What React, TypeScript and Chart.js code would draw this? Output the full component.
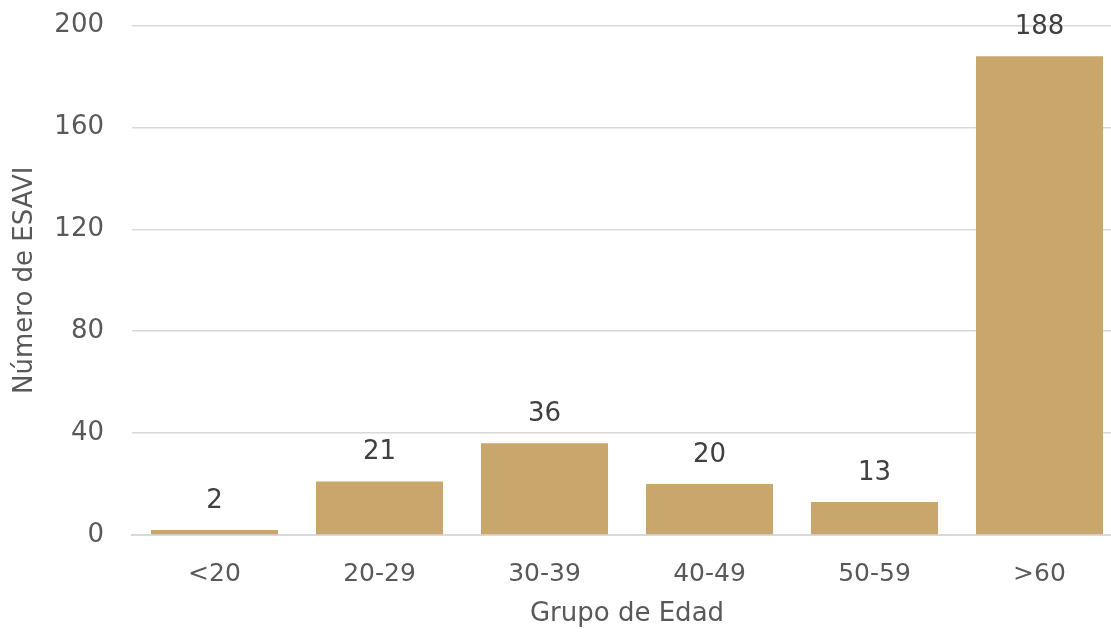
import React, { useEffect, useRef } from "react";
import { Chart, registerables } from "chart.js";

Chart.register(...registerables);

const categories = ["<20", "20-29", "30-39", "40-49", "50-59", ">60"];
const values = [2, 21, 36, 20, 13, 188];
const yTicks = [0, 40, 80, 120, 160, 200];

const FONT = "'DejaVu Sans', sans-serif";

const valueLabels = {
  id: "valueLabels",
  afterDatasetsDraw(chart: any) {
    const { ctx } = chart;
    const meta = chart.getDatasetMeta(0);
    ctx.save();
    ctx.font = `26px ${FONT}`;
    ctx.fillStyle = "#404040";
    ctx.textAlign = "center";
    ctx.textBaseline = "middle";
    meta.data.forEach((bar: any, i: number) => {
      ctx.fillText(String(values[i]), bar.x, bar.y - 29);
    });
    ctx.restore();
  },
};

export default function App() {
  const ref = useRef<HTMLCanvasElement>(null);
  useEffect(() => {
    document.body.style.margin = "0";
    const chart = new Chart(ref.current!, {
      type: "bar",
      data: {
        labels: categories,
        datasets: [
          {
            data: values,
            backgroundColor: "#C9A66B",
            categoryPercentage: 1,
            barPercentage: 0.77,
          },
        ],
      },
      options: {
        animation: false,
        responsive: false,
        layout: { padding: 0 },
        plugins: { legend: { display: false }, tooltip: { enabled: false } },
        scales: {
          x: {
            afterFit: (axis: any) => {
              axis.height = 97;
            },
            grid: { display: false, drawTicks: false },
            border: { display: true, color: "#d9d9d9", width: 2 },
            ticks: { color: "#595959", font: { family: FONT, size: 25 }, padding: 24 },
            title: {
              display: true,
              text: "Grupo de Edad",
              color: "#595959",
              font: { family: FONT, size: 26 },
              padding: { top: 4, bottom: 2 },
            },
          },
          y: {
            min: 0,
            max: 200,
            afterFit: (axis: any) => {
              axis.width = 132;
            },
            afterBuildTicks: (axis: any) => {
              axis.ticks = yTicks.map((v) => ({ value: v }));
            },
            grid: { color: "#d9d9d9", lineWidth: 1.5, drawTicks: false },
            border: { display: false },
            ticks: { color: "#595959", font: { family: FONT, size: 26 }, padding: 28 },
            title: {
              display: true,
              text: "Número de ESAVI",
              color: "#595959",
              font: { family: FONT, size: 26 },
              padding: { top: 10, bottom: 8 },
            },
          },
        },
      },
      plugins: [valueLabels],
    });
    return () => chart.destroy();
  }, []);
  return (
    <div style={{ position: "absolute", left: 0, top: 0, width: 1111, height: 632, overflow: "hidden" }}>
      <canvas ref={ref} width={1122} height={650} style={{ position: "absolute", left: 0, top: -18 }} />
    </div>
  );
}
